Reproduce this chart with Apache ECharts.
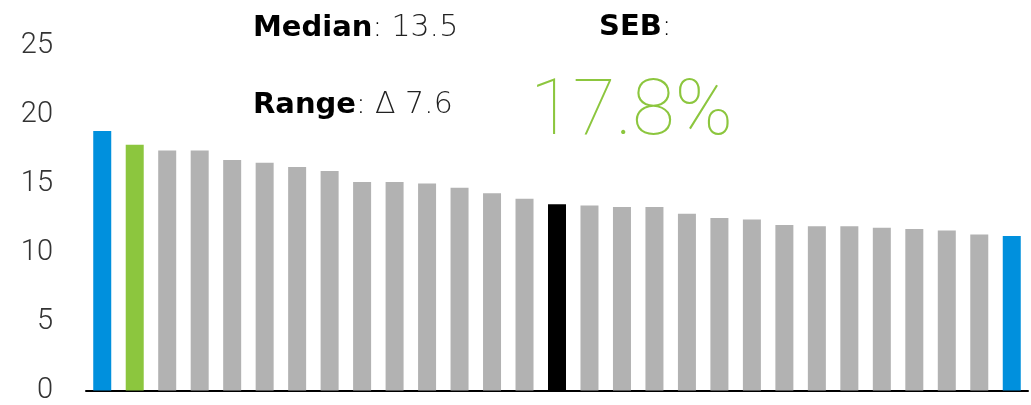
<!DOCTYPE html>
<html>
<head>
    <meta charset="utf-8">
    <title>SEB vs peers</title>
    <script src="https://cdn.jsdelivr.net/npm/echarts@6/dist/echarts.min.js"></script>
    <style>
        html, body { margin: 0; padding: 0; background: #fff; }
        #main { width: 1031px; height: 405px; }
    </style>
</head>
<body>
<div id="main"></div>
<script>
    // bar values, sorted high -> low (index 1 is SEB, index 14 is the median)
    var categories = ['B1', 'SEB', 'B3', 'B4', 'B5', 'B6', 'B7', 'B8', 'B9', 'B10', 'B11', 'B12', 'B13', 'B14', 'B15',
        'B16', 'B17', 'B18', 'B19', 'B20', 'B21', 'B22', 'B23', 'B24', 'B25', 'B26', 'B27', 'B28', 'B29'];
    var values = [18.8, 17.8, 17.4, 17.4, 16.7, 16.5, 16.2, 15.9, 15.1, 15.1, 15.0, 14.7, 14.3, 13.9, 13.5,
        13.4, 13.3, 13.3, 12.8, 12.5, 12.4, 12.0, 11.9, 11.9, 11.8, 11.7, 11.6, 11.3, 11.2];
    var yTicks = [0, 5, 10, 15, 20, 25];
    var medianText = '13.5';
    var rangeText = '7.6';
    var sebText = '17.8%';

    var sebIndex = 1;
    var medianIndex = 14;

    var myChart = echarts.init(document.getElementById('main'));

    //每根柱子的颜色
    var barData = values.map(function (v, i) {
        var c = '#b2b2b2';
        if (i === 0 || i === values.length - 1) c = '#0090dd';
        else if (i === sebIndex) c = '#8cc63e';
        else if (i === medianIndex) c = '#000000';
        return {value: v, itemStyle: {color: c}};
    });

    var richStyle = {
        b: {fontFamily: 'DejaVu Sans', fontWeight: 'bold', fontSize: 29, fill: '#000'},
        c: {fontFamily: 'DejaVu Sans', fontWeight: 200, fontSize: 29, fill: '#000'},
        n: {fontFamily: 'DejaVu Sans', fontWeight: 200, fontSize: 30, fill: '#222'}
    };

    myChart.setOption({
        animation: false,
        grid: {left: 86, right: 3, top: 45.5, bottom: 11.7},
        xAxis: {
            type: 'category',
            data: categories,
            axisLine: {lineStyle: {color: '#000', width: 2}},
            axisTick: {show: false},
            axisLabel: {show: false}
        },
        yAxis: {
            type: 'value',
            min: yTicks[0],
            max: yTicks[yTicks.length - 1],
            interval: 5,
            splitLine: {show: false},
            axisLine: {show: false},
            axisTick: {show: false},
            axisLabel: {
                margin: 33,
                padding: [4, 0, 0, 0],
                fontFamily: 'Roboto',
                fontWeight: 300,
                fontSize: 29,
                color: '#333'
            }
        },
        series: [{
            type: 'bar',
            barWidth: 18,
            data: barData
        }],
        graphic: [
            {
                type: 'text', left: 253, top: 13,
                style: {
                    text: '{b|Median}{c|: }{n|' + medianText + '}',
                    rich: richStyle
                }
            },
            {
                type: 'text', left: 253, top: 90,
                style: {
                    text: '{b|Range}{c|: }{n|\u0394 ' + rangeText + '}',
                    rich: richStyle
                }
            },
            {
                type: 'text', left: 599, top: 13,
                style: {
                    text: '{b|SEB}{c|:}',
                    rich: richStyle
                }
            },
            {
                type: 'text', left: 530, top: 75,
                style: {
                    text: sebText,
                    fontFamily: 'Roboto', fontWeight: 100, fontSize: 78, fill: '#8cc63e'
                }
            }
        ]
    });
</script>
</body>
</html>
